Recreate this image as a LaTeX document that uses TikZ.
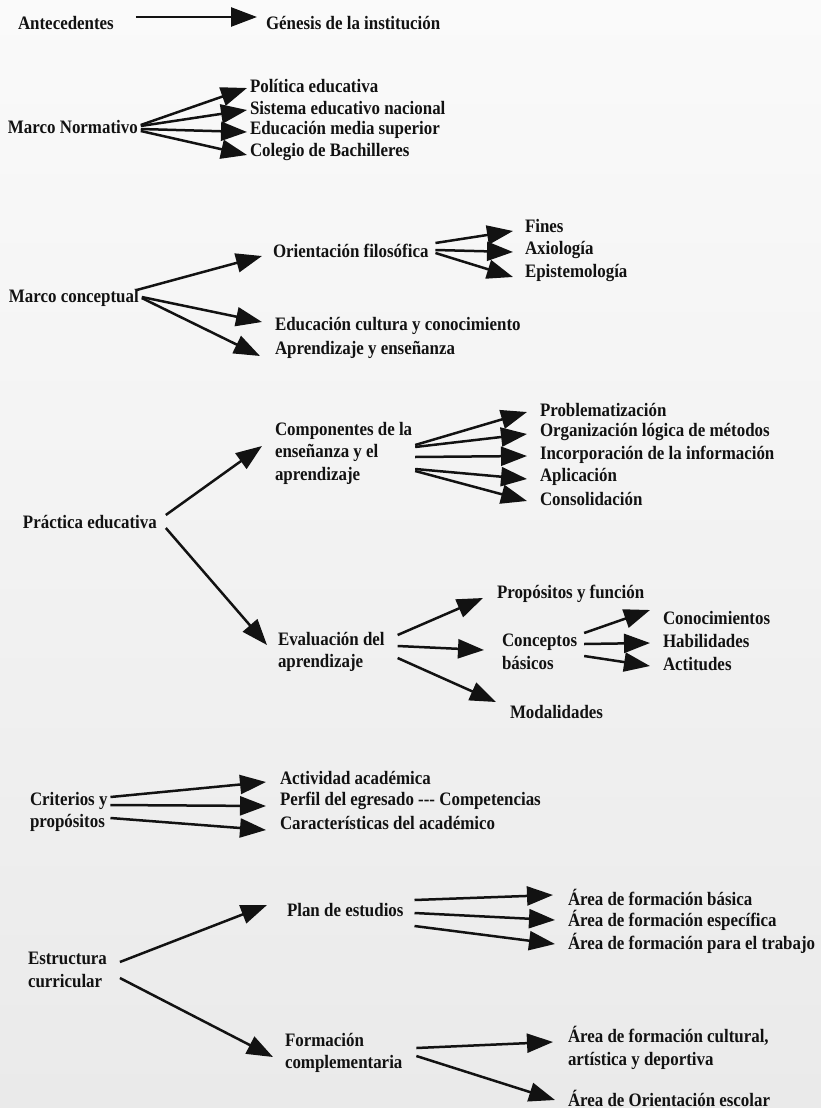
\documentclass[tikz,border=0pt]{standalone}
\usepackage{fontspec}
\setmainfont{Liberation Serif}[FakeStretch=0.89]
\usetikzlibrary{arrows.meta}
\definecolor{ink}{RGB}{18,18,18}
\definecolor{bgtop}{RGB}{250,250,250}
\definecolor{bgbot}{RGB}{234,234,234}
\begin{document}
\begin{tikzpicture}[x=1pt,y=-1pt,
  lbl/.style={anchor=west,inner sep=0pt,outer sep=0pt,text=ink,align=left,
    font=\bfseries\fontsize{19}{22.5}\selectfont},
  arr/.style={draw=ink,line width=2.5pt,-{Triangle[length=26pt,width=19pt]}}]
\shade[top color=bgtop,bottom color=bgbot] (0,0) rectangle (821,1108);
\useasboundingbox (0,0) rectangle (821,1108);

% Antecedentes
\node[lbl] (ant) at (18,23) {Antecedentes};
\node[lbl] (gen) at (266,23) {Génesis de la institución};
\draw[arr] ([shift={(22,-6)}]ant.east) -- ([shift={(-9,-6)}]gen.west);

% Marco Normativo
\node[lbl] (mn) at (8,127) {Marco Normativo};
\node[lbl] (pol) at (250,86) {Política educativa};
\node[lbl] (sis) at (250,108) {Sistema educativo nacional};
\node[lbl] (ems) at (250,130) {Educación media superior};
\node[lbl] (cb) at (250,152) {Colegio de Bachilleres};
\draw[arr] ([shift={(3,-2)}]mn.east) -- ([shift={(-3,2)}]pol.west);
\draw[arr] ([shift={(3,-1)}]mn.east) -- ([shift={(-3,2)}]sis.west);
\draw[arr] ([shift={(3,2)}]mn.east) -- ([shift={(-3,2)}]ems.west);
\draw[arr] ([shift={(3,4)}]mn.east) -- ([shift={(-3,3)}]cb.west);

% Marco conceptual
\node[lbl] (mc) at (9,298) {Marco conceptual};
\node[lbl] (of) at (273,251) {Orientación filosófica};
\node[lbl] (fin) at (525,226) {Fines};
\node[lbl] (axi) at (525,250) {Axiología};
\node[lbl] (epi) at (525,273) {Epistemología};
\node[lbl] (ecc) at (275,326) {Educación cultura y conocimiento};
\node[lbl] (aye) at (275,350) {Aprendizaje y enseñanza};
\draw[arr] ([shift={(-2,-8)}]mc.east) -- ([shift={(-11,5)}]of.west);
\draw[arr] ([shift={(3,-1)}]mc.east) -- ([shift={(-13,-4)}]ecc.west);
\draw[arr] ([shift={(3,0)}]mc.east) -- ([shift={(-15,6)}]aye.west);
\draw[arr] ([shift={(7,-8)}]of.east) -- ([shift={(-12,5)}]fin.west);
\draw[arr] ([shift={(7,-1)}]of.east) -- ([shift={(-12,2)}]axi.west);
\draw[arr] ([shift={(7,2)}]of.east) -- ([shift={(-12,4)}]epi.west);

% Practica educativa
\node[lbl] (pe) at (23,522) {Práctica educativa};
\node[lbl] (comp) at (275,453) {Componentes de la\\enseñanza y el\\aprendizaje};
\node[lbl] (prob) at (540,410) {Problematización};
\node[lbl] (org) at (540,432) {Organización lógica de métodos};
\node[lbl] (inc) at (540,455) {Incorporación de la información};
\node[lbl] (apl) at (540,477) {Aplicación};
\node[lbl] (cons) at (540,499) {Consolidación};
\node[lbl] (eva) at (278,652) {Evaluación del\\aprendizaje};
\draw[arr] ([shift={(9,-7)}]pe.east) -- ([shift={(-13,-7)}]comp.west);
\draw[arr] ([shift={(9,6)}]pe.east) -- ([shift={(-11,-7)}]eva.west);
\draw[arr] ([shift={(3,-8)}]comp.east) -- ([shift={(-13,2)}]prob.west);
\draw[arr] ([shift={(3,-6)}]comp.east) -- ([shift={(-13,2)}]org.west);
\draw[arr] ([shift={(3,4)}]comp.east) -- ([shift={(-13,1)}]inc.west);
\draw[arr] ([shift={(3,16)}]comp.east) -- ([shift={(-13,2)}]apl.west);
\draw[arr] ([shift={(3,18)}]comp.east) -- ([shift={(-13,2)}]cons.west);

% Evaluacion
\node[lbl] (prop) at (497,594) {Propósitos y función};
\node[lbl] (conc) at (502,652) {Conceptos\\básicos};
\node[lbl] (cono) at (663,618) {Conocimientos};
\node[lbl] (hab) at (663,641) {Habilidades};
\node[lbl] (act) at (663,664) {Actitudes};
\node[lbl] (moda) at (510,712) {Modalidades};
\draw[arr] ([shift={(13,-17)}]eva.east) -- ([shift={(-14,4)}]prop.west);
\draw[arr] ([shift={(13,-6)}]eva.east) -- ([shift={(-18,-2)}]conc.west);
\draw[arr] ([shift={(13,6)}]eva.east) -- ([shift={(-14,-10)}]moda.west);
\draw[arr] ([shift={(7,-19)}]conc.east) -- ([shift={(-13,-8)}]cono.west);
\draw[arr] ([shift={(7,-8)}]conc.east) -- ([shift={(-13,2)}]hab.west);
\draw[arr] ([shift={(7,4)}]conc.east) -- ([shift={(-13,2)}]act.west);

% Criterios
\node[lbl] (cri) at (30,812) {Criterios y\\propósitos};
\node[lbl] (aa) at (280,778) {Actividad académica};
\node[lbl] (peg) at (280,801) {Perfil del egresado -{}-{}- Competencias};
\node[lbl] (car) at (280,823) {Características del académico};
\draw[arr] ([shift={(3,-15)}]cri.east) -- ([shift={(-14,4)}]aa.west);
\draw[arr] ([shift={(3,-7)}]cri.east) -- ([shift={(-14,5)}]peg.west);
\draw[arr] ([shift={(3,6)}]cri.east) -- ([shift={(-14,7)}]car.west);

% Estructura curricular
\node[lbl] (ec) at (28,970) {Estructura\\curricular};
\node[lbl] (plan) at (287,910) {Plan de estudios};
\node[lbl] (fc) at (285,1053) {Formación\\complementaria};
\node[lbl] (afb) at (568,897) {Área de formación básica};
\node[lbl] (afe) at (568,920) {Área de formación específica};
\node[lbl] (aft) at (568,943) {Área de formación para el trabajo};
\node[lbl] (afc) at (568,1048) {Área de formación cultural,\\artística y deportiva};
\node[lbl] (aoe) at (568,1098) {Área de Orientación escolar};
\draw[arr] ([shift={(13,-8)}]ec.east) -- ([shift={(-20,-5)}]plan.west);
\draw[arr] ([shift={(13,8)}]ec.east) -- ([shift={(-12,4)}]fc.west);
\draw[arr] ([shift={(11,-10)}]plan.east) -- ([shift={(-15,-2)}]afb.west);
\draw[arr] ([shift={(11,3)}]plan.east) -- ([shift={(-13,0)}]afe.west);
\draw[arr] ([shift={(11,16)}]plan.east) -- ([shift={(-13,1)}]aft.west);
\draw[arr] ([shift={(14,-5)}]fc.east) -- ([shift={(-15,-6)}]afc.west);
\draw[arr] ([shift={(14,3)}]fc.east) -- ([shift={(-13,2)}]aoe.west);
\end{tikzpicture}
\end{document}
